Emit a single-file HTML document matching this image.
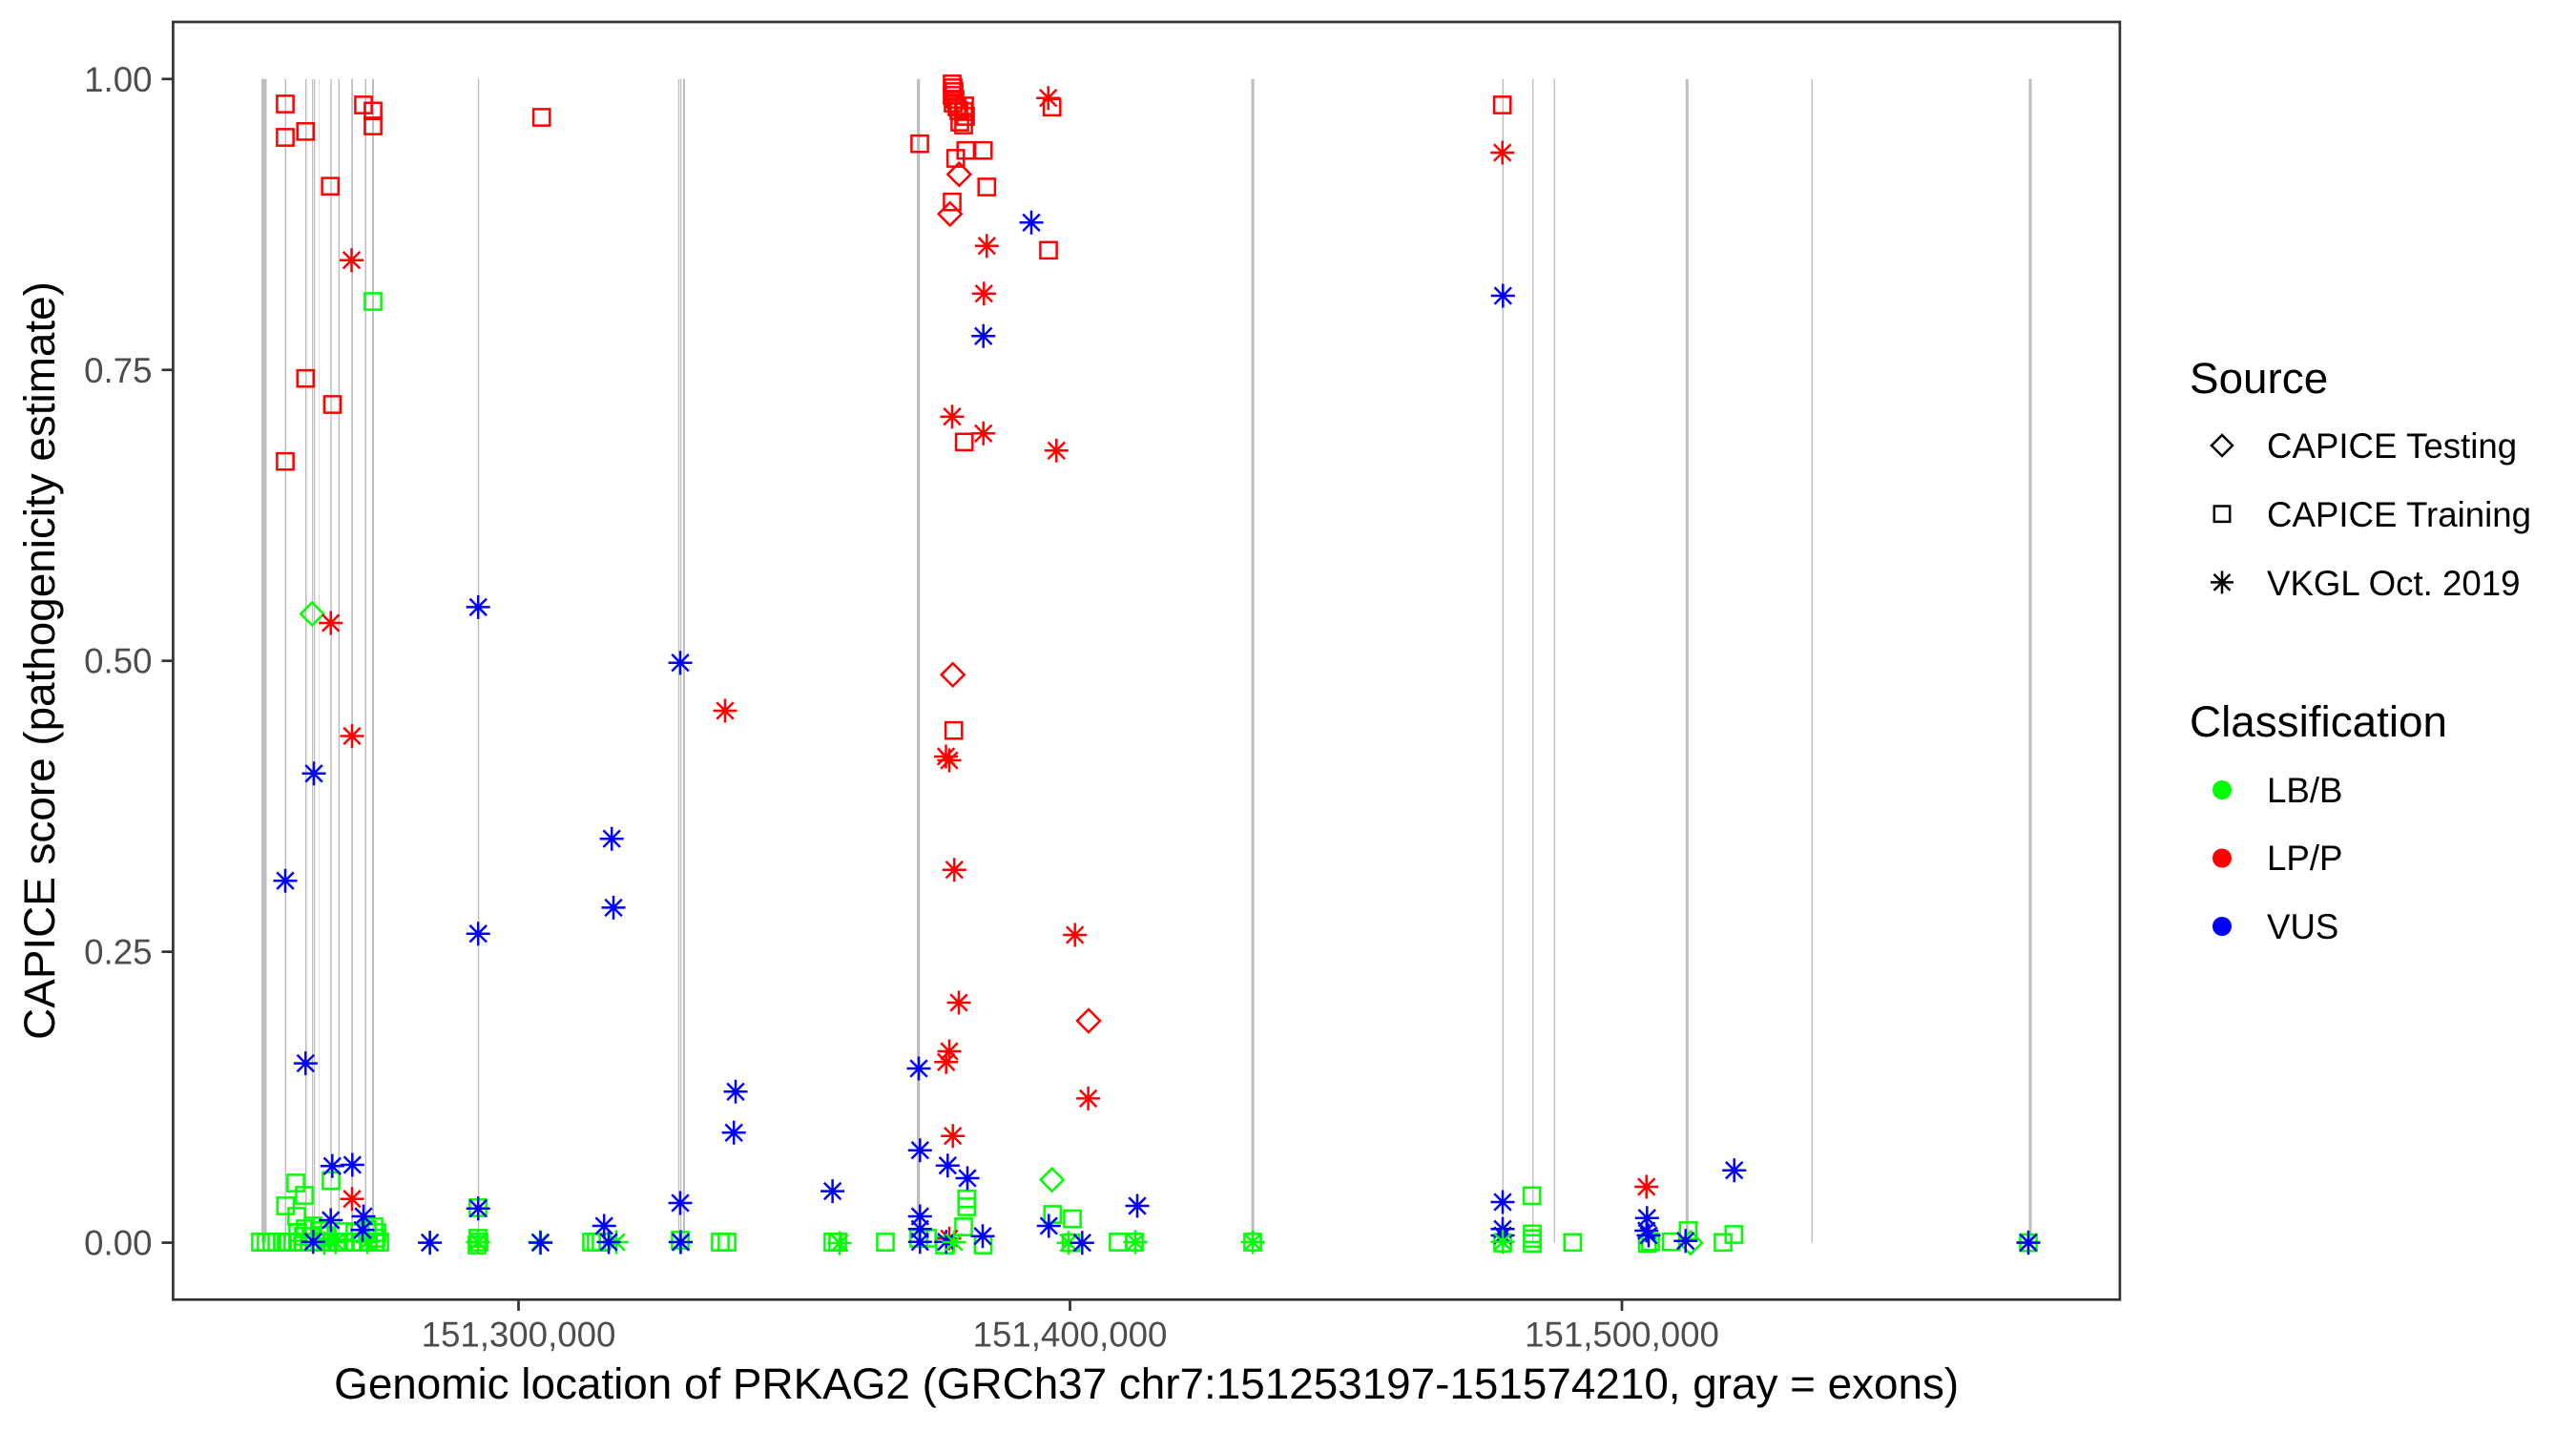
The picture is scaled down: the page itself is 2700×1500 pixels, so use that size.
<!DOCTYPE html>
<html>
<head>
<meta charset="utf-8">
<style>
  html,body{margin:0;padding:0;background:#fff;}
  svg{display:block;}
  text{font-family:"Liberation Sans","DejaVu Sans",sans-serif;}
  .tk{font-size:36.67px;fill:#4D4D4D;}
  .tt{font-size:45.83px;fill:#000;}
  .lt{font-size:36.67px;fill:#000;}
  .ex{fill:#BEBEBE;}
  polyline{fill:none;stroke:none;}
</style>
</head>
<body>
<svg width="2700" height="1500" viewBox="0 0 2700 1500" xmlns="http://www.w3.org/2000/svg">
<defs>
  <marker id="gS" markerUnits="userSpaceOnUse" markerWidth="40" markerHeight="40" refX="0" refY="0" overflow="visible"><path d="M-8.6-8.6h17.2v17.2h-17.2z" fill="none" stroke="#00FF00" stroke-width="2.5"/></marker>
  <marker id="gD" markerUnits="userSpaceOnUse" markerWidth="40" markerHeight="40" refX="0" refY="0" overflow="visible"><path d="M0-12L12 0L0 12L-12 0z" fill="none" stroke="#00FF00" stroke-width="2.5"/></marker>
  <marker id="gA" markerUnits="userSpaceOnUse" markerWidth="40" markerHeight="40" refX="0" refY="0" overflow="visible"><path d="M0-12.5V12.5M-12.5 0H12.5M-8.8-8.8L8.8 8.8M-8.8 8.8L8.8-8.8" fill="none" stroke="#00FF00" stroke-width="2.5"/></marker>
  <marker id="rS" markerUnits="userSpaceOnUse" markerWidth="40" markerHeight="40" refX="0" refY="0" overflow="visible"><path d="M-8.6-8.6h17.2v17.2h-17.2z" fill="none" stroke="#FF0000" stroke-width="2.5"/></marker>
  <marker id="rD" markerUnits="userSpaceOnUse" markerWidth="40" markerHeight="40" refX="0" refY="0" overflow="visible"><path d="M0-12L12 0L0 12L-12 0z" fill="none" stroke="#FF0000" stroke-width="2.5"/></marker>
  <marker id="rA" markerUnits="userSpaceOnUse" markerWidth="40" markerHeight="40" refX="0" refY="0" overflow="visible"><path d="M0-12.5V12.5M-12.5 0H12.5M-8.8-8.8L8.8 8.8M-8.8 8.8L8.8-8.8" fill="none" stroke="#FF0000" stroke-width="2.5"/></marker>
  <marker id="bA" markerUnits="userSpaceOnUse" markerWidth="40" markerHeight="40" refX="0" refY="0" overflow="visible"><path d="M0-12.5V12.5M-12.5 0H12.5M-8.8-8.8L8.8 8.8M-8.8 8.8L8.8-8.8" fill="none" stroke="#0000FF" stroke-width="2.5"/></marker>
</defs>
<rect x="0" y="0" width="2700" height="1500" fill="#fff"/>

<!-- exon lines -->
<g class="ex">
  <rect x="274" y="82.8" width="5.5" height="1219.8"/>
  <rect x="298.6" y="82.8" width="1.5" height="1219.8"/>
  <rect x="320" y="82.8" width="1.5" height="1219.8"/>
  <rect x="327" y="82.8" width="1.3" height="1219.8"/>
  <rect x="329" y="82.8" width="1.3" height="1219.8"/>
  <rect x="334" y="82.8" width="1" height="1219.8" opacity="0.5"/>
  <rect x="346.3" y="82.8" width="1.5" height="1219.8"/>
  <rect x="354.6" y="82.8" width="1.5" height="1219.8"/>
  <rect x="368.2" y="82.8" width="1.8" height="1219.8"/>
  <rect x="382.5" y="82.8" width="1.5" height="1219.8"/>
  <rect x="390" y="82.8" width="2" height="1219.8"/>
  <rect x="500.8" y="82.8" width="1.4" height="1219.8"/>
  <rect x="710.8" y="82.8" width="1.3" height="1219.8"/>
  <rect x="712.9" y="82.8" width="1.3" height="1219.8"/>
  <rect x="716" y="82.8" width="2" height="1219.8"/>
  <rect x="961" y="82.8" width="3.3" height="1219.8"/>
  <rect x="1311.5" y="82.8" width="3.2" height="1219.8"/>
  <rect x="1574.6" y="82.8" width="1.4" height="1219.8"/>
  <rect x="1606" y="82.8" width="1.4" height="1219.8"/>
  <rect x="1628.6" y="82.8" width="1.4" height="1219.8"/>
  <rect x="1766.8" y="82.8" width="3" height="1219.8"/>
  <rect x="1898.6" y="82.8" width="1.4" height="1219.8"/>
  <rect x="2126.5" y="82.8" width="3" height="1219.8"/>
</g>

<!-- green squares -->
<polyline marker-start="url(#gS)" marker-mid="url(#gS)" marker-end="url(#gS)" points="
273,1302 279,1302 285,1302 296,1302 300,1302 307,1302 312,1302 318,1302 324,1302 330,1302 336,1302 342,1302
355,1302 362,1302 370,1302 378,1302 386,1302 393,1302 398,1302
312,1292 320,1288 328,1285 335,1290 318,1296 326,1296 340,1295
360,1291 372,1292 385,1289 395,1292 394,1298 392,1286
310,1240 319,1253 299.3,1264 311,1275 347,1237.5 391,316
501,1298 502,1302 500,1305 501,1266 620,1302 625,1302 630,1302 713,1300 755,1302 762,1302
873,1302 878,1302 928,1302 963,1298 972,1298 990,1305 1030.5,1305
1013.3,1256.7 1013.3,1265 1010,1286 1103.3,1273 1124,1277.5 1122.7,1302.7 1172,1302 1189,1302 1313,1302
1575,1303 1605.7,1253.3 1606,1293.3 1606,1298.3 1606,1303.3 1648.3,1302.3 1726.7,1303.3 1730,1301.7
1751.7,1301.7 1769.3,1290 1806,1302.3 1817.3,1294 2126,1302.6"/>
<!-- green diamonds -->
<polyline marker-start="url(#gD)" marker-mid="url(#gD)" marker-end="url(#gD)" points="327.2,643.5 1102.7,1236.7 1772,1302.7"/>
<!-- green asterisks -->
<polyline marker-start="url(#gA)" marker-mid="url(#gA)" marker-end="url(#gA)" points="
351.7,1302 385,1302 340,1303 450.6,1302.6 501,1302 566,1302 646,1302 713,1302 880,1303 1120,1302.7 1190,1302 1313,1302 2126,1302"/>

<!-- red squares -->
<polyline marker-start="url(#rS)" marker-mid="url(#rS)" marker-end="url(#rS)" points="
299,109 381,110 391,116.3 391,132 320.3,137.8 299,144 346.2,195.2 567.7,123 320.3,396.7 348.5,424 299,483.7
998,88 999,92 1000,96 998,100 1001,104 999,108 1003,112 1005,116 1011,111 1010,117 1012,122 1006,128 1010,131
1102.7,112.3 964,150.7 1012.3,157.7 1030.7,157.7 1001.7,166 1034.3,196 998,211.7 1099,262.3 1010.7,463.3 999.7,765.7
1574.7,110"/>
<!-- red diamonds -->
<polyline marker-start="url(#rD)" marker-mid="url(#rD)" marker-end="url(#rD)" points="1005.3,182.7 995.7,224.3 998.7,707.3 1141,1070"/>
<!-- red asterisks -->
<polyline marker-start="url(#rA)" marker-mid="url(#rA)" marker-end="url(#rA)" points="
368.5,272.7 346.7,653 369,771.5 369,1256.7 760,745 1098.7,102.7 1034.3,257.7 1031.3,307.7 998,436.7 1030.7,454.3
1107.3,472.3 991.5,793 995,797 1000.3,911.7 1126.7,980 1005,1051 995,1102 991.7,1113.3 1140.6,1151.4 998.7,1190.7
995,1298.3 1574.7,160 1725.7,1244"/>

<!-- blue asterisks -->
<polyline marker-start="url(#bA)" marker-mid="url(#bA)" marker-end="url(#bA)" points="
501.2,636.4 713,694.7 329,810.8 299,923.2 641.2,879.2 643,951.4 501.2,978.7 320.3,1114.6 771,1144.3 769.2,1187.3
872.6,1248.6 713,1261 633.2,1285 501.2,1266.7 348.3,1222.3 369.3,1221 346.7,1279 381,1275 380,1289.3 328.3,1301.7
450.6,1302.6 566.6,1302.6 713.5,1302 638,1302
1081,233.3 1030.7,352.3 963,1120 964.3,1205.7 993.3,1221.7 1014,1235 964.3,1275 964.3,1288.3 964.3,1301.7
991.7,1301.7 1030,1295.7 1099.3,1285 1192,1264 1134.3,1302.7
1575.3,310 1575,1260 1575,1288.3 1575,1295 1726.3,1276.7 1725.7,1290 1728,1295 1766.7,1300.7 1817.7,1226.7 2126,1302.6"/>

<!-- a few green asterisks on top -->
<polyline marker-start="url(#gA)" marker-end="url(#gA)" points="1575,1301.7 1000,1302"/>

<!-- panel border -->
<rect x="181.4" y="23" width="2040.5" height="1339.3" fill="none" stroke="#333333" stroke-width="2.7"/>

<!-- ticks -->
<g stroke="#333333" stroke-width="2.7">
  <line x1="169.5" y1="1302.6" x2="181.4" y2="1302.6"/>
  <line x1="169.5" y1="997.65" x2="181.4" y2="997.65"/>
  <line x1="169.5" y1="692.7" x2="181.4" y2="692.7"/>
  <line x1="169.5" y1="387.75" x2="181.4" y2="387.75"/>
  <line x1="169.5" y1="82.8" x2="181.4" y2="82.8"/>
  <line x1="543.5" y1="1362.3" x2="543.5" y2="1374"/>
  <line x1="1121.5" y1="1362.3" x2="1121.5" y2="1374"/>
  <line x1="1700" y1="1362.3" x2="1700" y2="1374"/>
</g>
<g class="tk" text-anchor="end">
  <text x="159.5" y="1315.6">0.00</text>
  <text x="159.5" y="1010.7">0.25</text>
  <text x="159.5" y="705.7">0.50</text>
  <text x="159.5" y="400.8">0.75</text>
  <text x="159.5" y="95.8">1.00</text>
</g>
<g class="tk" text-anchor="middle">
  <text x="543.5" y="1411.5">151,300,000</text>
  <text x="1121.5" y="1411.5">151,400,000</text>
  <text x="1700" y="1411.5">151,500,000</text>
</g>

<!-- axis titles -->
<text class="tt" x="1201.7" y="1466" text-anchor="middle">Genomic location of PRKAG2 (GRCh37 chr7:151253197-151574210, gray = exons)</text>
<text class="tt" transform="translate(57,692.5) rotate(-90)" text-anchor="middle">CAPICE score (pathogenicity estimate)</text>

<!-- legend: Source -->
<text class="tt" x="2295" y="412">Source</text>
<g fill="none" stroke="#000" stroke-width="2.5">
  <path d="M2329 456L2340 467L2329 478L2318 467z"/>
  <rect x="2320.8" y="530.5" width="16.4" height="16.4"/>
  <path d="M2329 598.4V622.4M2317 610.4H2341M2320.5 601.9L2337.5 618.9M2320.5 618.9L2337.5 601.9"/>
</g>
<text class="lt" x="2376" y="480">CAPICE Testing</text>
<text class="lt" x="2376" y="552">CAPICE Training</text>
<text class="lt" x="2376" y="624">VKGL Oct. 2019</text>

<!-- legend: Classification -->
<text class="tt" x="2295" y="772">Classification</text>
<circle cx="2329" cy="828" r="10" fill="#00FF00"/>
<circle cx="2329" cy="899.5" r="10" fill="#FF0000"/>
<circle cx="2329" cy="971" r="10" fill="#0000FF"/>
<text class="lt" x="2376" y="841">LB/B</text>
<text class="lt" x="2376" y="912">LP/P</text>
<text class="lt" x="2376" y="984">VUS</text>
</svg>
</body>
</html>
